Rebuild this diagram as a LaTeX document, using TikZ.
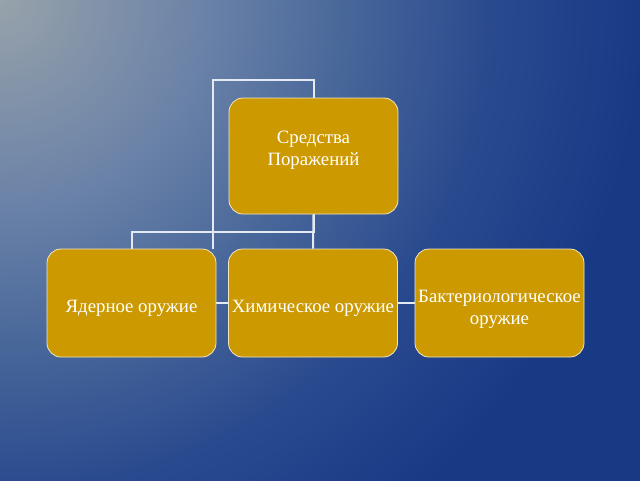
\documentclass[tikz,border=0pt]{standalone}
\usepackage{fontspec}
\setmainfont{Liberation Serif}
\usetikzlibrary{backgrounds}
\definecolor{bgA}{HTML}{97A2AA}
\definecolor{bgB}{HTML}{6A82A8}
\definecolor{bgC}{HTML}{476699}
\definecolor{bgD}{HTML}{2A4A8F}
\definecolor{bgE}{HTML}{183A85}
\definecolor{gold}{HTML}{CC9A00}
\definecolor{boxline}{HTML}{F2E6C0}
\definecolor{linkc}{HTML}{E4EAF2}
\pgfdeclareradialshading{bgfade}{\pgfpoint{0bp}{0bp}}{color(0bp)=(bgA); color(7.4bp)=(bgB); color(12.5bp)=(bgC); color(17.5bp)=(bgD); color(23bp)=(bgE); color(50bp)=(bgE)}

\begin{document}
\begin{tikzpicture}[x=1pt, y=-1pt,
    box/.style={draw=boxline, line width=0.8pt, fill=gold, rounded corners=14pt,
        minimum width=169pt, minimum height=108pt, inner sep=0pt},
    lbl/.style={text=white, align=center, inner sep=0pt, font=\fontsize{18.8}{22}\selectfont},
    link/.style={draw=linkc, line width=2pt}]
    \useasboundingbox (0,0) rectangle (640,480);
    \begin{scope}[on background layer]
        \clip (0,0) rectangle (640,480);
        \shade[shading=bgfade] (-700,-700) rectangle (700,700);
    \end{scope}
    \node[box, minimum height=116pt] (sred) at (313.5,156) {};
    \node[box] (yad) at (131.5,303) {};
    \node[box] (him) at (313,303) {};
    \node[box] (bakt) at (499.5,303) {};
    \node[lbl] (sredtxt) at ([yshift=6pt]sred.center) {Средства\\Поражений};
    \node[lbl] (yadtxt) at ([yshift=-5pt]yad.center) {Ядерное оружие};
    \node[lbl] (himtxt) at ([yshift=-5pt]him.center) {Химическое оружие};
    \node[lbl] (bakttxt) at ([yshift=-6pt]bakt.center) {Бактериологическое\\оружие};
    \begin{scope}[on background layer]
        \draw[link] (sred.north) -- ++(0,-18) -| ([xshift=-3pt]yad.north east);
        \draw[link] (sred.south) -- (him.north);
        \draw[link] (sred.south) -- ++(0,18) -| (yad.north);
        \draw[link] (yad.east) -- (him.west);
        \draw[link] (him.east) -- (bakt.west);
    \end{scope}
\end{tikzpicture}
\end{document}
